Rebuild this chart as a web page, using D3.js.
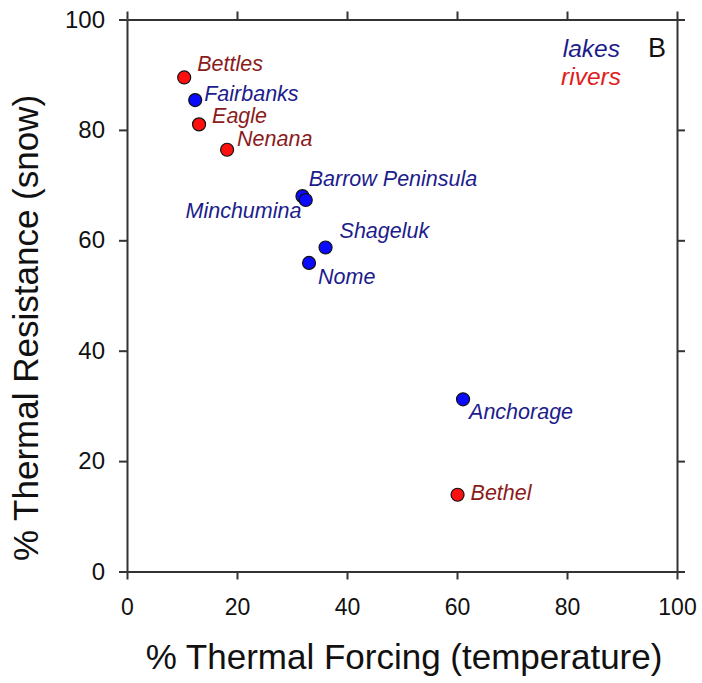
<!DOCTYPE html>
<html>
<head>
<meta charset="utf-8">
<script src="https://cdn.jsdelivr.net/npm/d3@7/dist/d3.min.js"></script>
<style>
  html, body { margin: 0; padding: 0; background: #fff; }
  svg { display: block; font-family: "Liberation Sans", Arial, sans-serif; }
</style>
</head>
<body>
<svg id="chart" width="702" height="683"></svg>
<script>
// ---- data ----
const sites   = ["Bettles", "Fairbanks", "Eagle", "Nenana", "Minchumina", "Barrow Peninsula", "Shageluk", "Nome", "Anchorage", "Bethel"];
const types   = ["river", "lake", "river", "river", "lake", "lake", "lake", "lake", "lake", "river"];
const forcing = [10.4, 12.4, 13.1, 18.2, 31.9, 32.5, 36.1, 33.1, 61.1, 60.1];
const resist  = [89.5, 85.4, 81.0, 76.4, 68.0, 67.3, 58.7, 55.9, 31.2, 13.9];
const xTicks  = [0, 20, 40, 60, 80, 100];
const yTicks  = [0, 20, 40, 60, 80, 100];

// label layout (px offsets from the point; anchor)
const labelDx     = [13, 9, 13, 10, -1, 3, 14, 9, 6, 13];
const labelDy     = [-6, 1, -1, -4, 22, -14, -9, 21, 20, 5];
const labelAnchor = ["start","start","start","start","end","start","start","start","start","start"];

const svg = d3.select("#chart");
const L = 127, R = 677, T = 19.5, B = 571.5;
const x = d3.scaleLinear().domain([0, 100]).range([L, R]);
const y = d3.scaleLinear().domain([0, 100]).range([B, T]);

const axisColor = "#333";
const tickSize = 8;
const tickFont = 23;

function styleAxis(g) {
  g.selectAll("path.domain").attr("stroke", axisColor).attr("stroke-width", 2);
  g.selectAll(".tick line").attr("stroke", axisColor).attr("stroke-width", 2);
}

// bottom axis
const gB = svg.append("g").attr("transform", `translate(0,${B})`)
  .call(d3.axisBottom(x).tickValues(xTicks).tickSize(tickSize).tickSizeOuter(0).tickPadding(19));
styleAxis(gB);
gB.selectAll(".tick text").attr("font-size", tickFont).attr("fill", "#111")
  .attr("font-family", "'Liberation Sans', Arial, sans-serif");

// top axis
const gT = svg.append("g").attr("transform", `translate(0,${T})`)
  .call(d3.axisTop(x).tickValues(xTicks).tickSize(tickSize).tickSizeOuter(0).tickFormat(""));
styleAxis(gT);

// left axis
const gL = svg.append("g").attr("transform", `translate(${L},0)`)
  .call(d3.axisLeft(y).tickValues(yTicks).tickSize(tickSize).tickSizeOuter(0).tickPadding(14));
styleAxis(gL);
gL.selectAll(".tick text").attr("font-size", tickFont + 1).attr("fill", "#111")
  .attr("font-family", "'Liberation Sans', Arial, sans-serif");

// right axis
const gR = svg.append("g").attr("transform", `translate(${R},0)`)
  .call(d3.axisRight(y).tickValues(yTicks).tickSize(tickSize).tickSizeOuter(0).tickFormat(""));
styleAxis(gR);

// axis titles
svg.append("text")
  .attr("x", 404).attr("y", 669)
  .attr("text-anchor", "middle").attr("font-size", 35).attr("fill", "#111")
  .text("% Thermal Forcing (temperature)");

svg.append("text")
  .attr("transform", `translate(38,328) rotate(-90)`)
  .attr("text-anchor", "middle").attr("font-size", 35).attr("fill", "#111")
  .text("% Thermal Resistance (snow)");

// points
const data = sites.map((s, i) => ({ site: s, type: types[i], fx: forcing[i], ry: resist[i], i }));
const fillColor  = { river: "#ff1010", lake: "#0a0aff" };
const labelColor = { river: "#8b1c1c", lake: "#1c1c8c" };

svg.append("g").selectAll("circle").data(data).join("circle")
  .attr("cx", d => x(d.fx)).attr("cy", d => y(d.ry)).attr("r", 6.5)
  .attr("fill", d => fillColor[d.type]).attr("stroke", "#111").attr("stroke-width", 1.2);

svg.append("g").selectAll("text").data(data).join("text")
  .attr("x", d => x(d.fx) + labelDx[d.i]).attr("y", d => y(d.ry) + labelDy[d.i])
  .attr("text-anchor", d => labelAnchor[d.i])
  .attr("font-size", 21.5).attr("font-style", "italic")
  .attr("fill", d => labelColor[d.type])
  .text(d => d.site);

// legend
svg.append("text").attr("x", 620).attr("y", 57).attr("text-anchor", "end")
  .attr("font-size", 24.5).attr("font-style", "italic").attr("fill", "#1c1c8c").text("lakes");
svg.append("text").attr("x", 621).attr("y", 85).attr("text-anchor", "end")
  .attr("font-size", 24.5).attr("font-style", "italic").attr("fill", "#e02020").text("rivers");
svg.append("text").attr("x", 648).attr("y", 57)
  .attr("font-size", 27).attr("fill", "#111").text("B");
</script>
</body>
</html>
